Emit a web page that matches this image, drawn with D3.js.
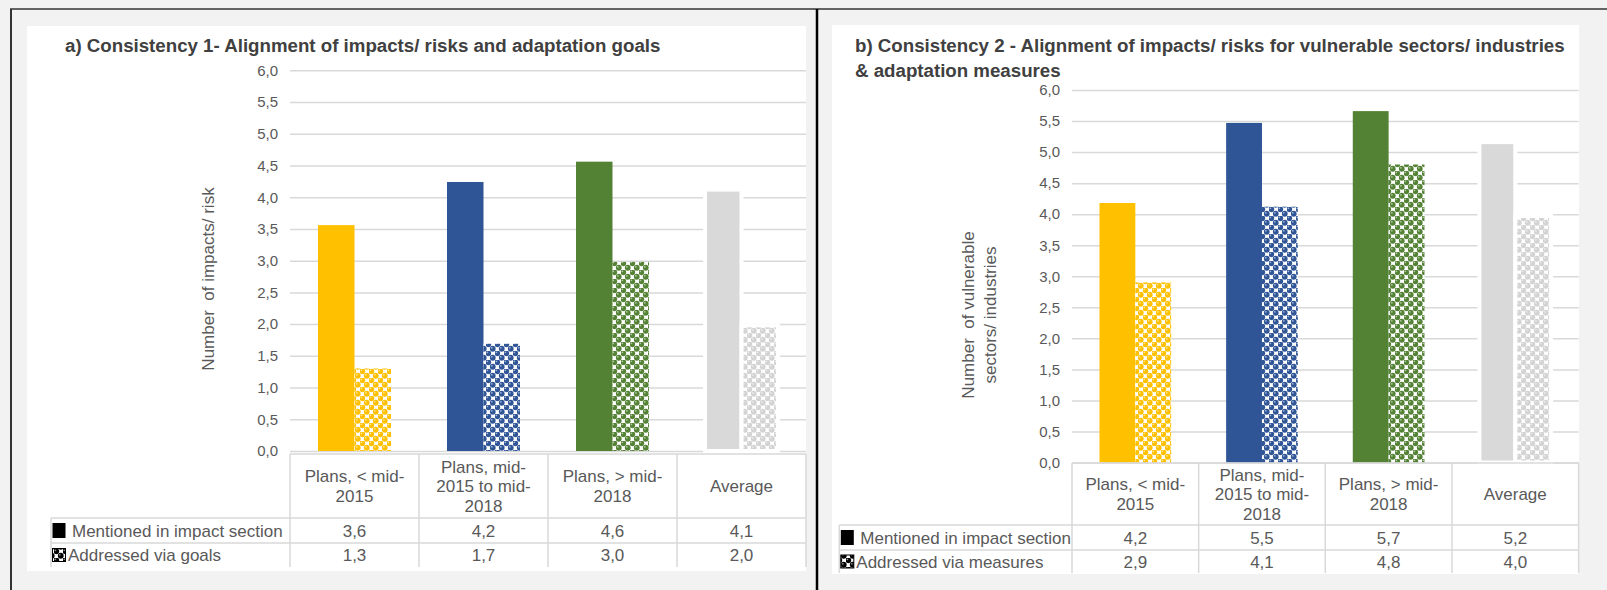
<!DOCTYPE html>
<html>
<head>
<meta charset="utf-8">
<script src="https://cdn.jsdelivr.net/npm/d3@7"></script>
<style>
  body { margin: 0; background: #f2f2f2; }
  text { font-family: "Liberation Sans", Arial, sans-serif; white-space: pre; }
</style>
</head>
<body>
<svg id="chart"></svg>
<script>
const CATEGORIES = ['Plans, < mid-2015', 'Plans, mid-2015 to mid-2018', 'Plans, > mid-2018', 'Average'];
const CATEGORY_LINES = [['Plans, < mid-', '2015'], ['Plans, mid-', '2015 to mid-', '2018'], ['Plans, > mid-', '2018'], ['Average']];
const COLORS = ['#FFC000', '#2F5597', '#548235', '#D9D9D9'];
const Y_TICKS = [0, 0.5, 1, 1.5, 2, 2.5, 3, 3.5, 4, 4.5, 5, 5.5, 6];

// panel a
const IMPACTS_A = [3.56, 4.24, 4.56, 4.12];
const GOALS_A = [1.3, 1.69, 2.98, 1.98];
// panel b
const IMPACTS_B = [4.18, 5.47, 5.66, 5.16];
const MEASURES_B = [2.9, 4.12, 4.8, 3.97];

const WIDTH = 1607, HEIGHT = 590;
const fmt = d3.formatLocale({ decimal: ',', thousands: '.', grouping: [3], currency: ['', '€'] }).format('.1f');

const svg = d3.select('#chart').attr('width', WIDTH).attr('height', HEIGHT);
const defs = svg.append('defs');

function ballPattern(id, color) {
  const p = defs.append('pattern').attr('id', id)
    .attr('patternUnits', 'userSpaceOnUse').attr('width', 9).attr('height', 9);
  p.append('rect').attr('width', 9).attr('height', 9).attr('fill', '#fff');
  [[2.25, 2.25], [6.75, 6.75], [6.75, -2.25], [-2.25, 6.75]].forEach(([cx, cy]) => {
    p.append('circle').attr('cx', cx).attr('cy', cy).attr('r', 2.9).attr('fill', color);
    p.append('circle').attr('cx', cx - 0.9).attr('cy', cy - 0.9).attr('r', 0.9).attr('fill', '#fff').attr('opacity', 0.55);
  });
}
COLORS.forEach((c, i) => ballPattern('ball' + i, i === 3 ? '#d3d3d3' : c));
ballPattern('ballKey', '#000');

// frame
svg.append('line').attr('x1', 10).attr('x2', WIDTH).attr('y1', 9).attr('y2', 9)
  .attr('stroke', '#333').attr('stroke-width', 1.5);
svg.append('line').attr('x1', 11).attr('x2', 11).attr('y1', 9).attr('y2', HEIGHT)
  .attr('stroke', '#333').attr('stroke-width', 2);
svg.append('line').attr('x1', 817).attr('x2', 817).attr('y1', 9).attr('y2', HEIGHT)
  .attr('stroke', '#000').attr('stroke-width', 2.5);

function drawPanel(cfg) {
  const g = svg.append('g');
  g.append('rect').attr('x', cfg.bg[0]).attr('y', cfg.bg[1]).attr('width', cfg.bg[2]).attr('height', cfg.bg[3])
    .attr('fill', '#fff');

  const x = d3.scaleBand().domain(CATEGORIES).range([cfg.x0, cfg.x1]);
  const y = d3.scaleLinear().domain([0, 6]).range([cfg.y0, cfg.y6]);
  const barW = x.bandwidth() * 0.283;
  const x1 = d3.scaleBand().domain([0, 1]).range([(x.bandwidth() - 2 * barW) / 2, (x.bandwidth() + 2 * barW) / 2]);

  // title
  g.append('text').attr('x', cfg.titleX).attr('y', 52)
    .attr('font-size', 18.7).attr('font-weight', 'bold').attr('fill', '#404040')
    .selectAll('tspan').data(cfg.title).join('tspan')
    .attr('x', cfg.titleX).attr('dy', (d, i) => i ? 25 : 0).text(d => d);

  // grid
  g.append('g').attr('transform', `translate(${cfg.x0},0)`)
    .call(d3.axisLeft(y).tickValues(Y_TICKS).tickSize(-(cfg.x1 - cfg.x0)).tickFormat(''))
    .call(a => a.select('.domain').remove())
    .call(a => a.selectAll('line').attr('stroke', '#d9d9d9').attr('stroke-width', 1.5));

  // y axis labels
  g.append('g').attr('transform', `translate(${cfg.x0},0)`)
    .call(d3.axisLeft(y).tickValues(Y_TICKS).tickSize(0).tickPadding(12).tickFormat(fmt))
    .call(a => a.select('.domain').remove())
    .call(a => a.selectAll('text').attr('font-size', 15).attr('fill', '#595959')
      .attr('font-family', '"Liberation Sans", Arial, sans-serif'));

  // axis title
  g.append('text').attr('transform', `translate(${cfg.axisTitle[0]},${cfg.axisTitle[1]}) rotate(-90)`)
    .attr('text-anchor', 'middle').attr('font-size', 17).attr('fill', '#595959')
    .selectAll('tspan').data(cfg.axisLines).join('tspan')
    .attr('x', 0).attr('y', (d, i) => (i - (cfg.axisLines.length - 1) / 2) * 21.5 + 6).text(d => d);

  // bars
  const series = [cfg.solid, cfg.pattern];
  series.forEach((vals, s) => {
    g.selectAll('.bar' + s)
      .data(CATEGORIES.map((c, i) => ({ c, i, v: vals[i] })))
      .join('rect')
      .attr('class', 'bar' + s)
      .attr('x', d => x(d.c) + x1(s))
      .attr('width', x1.bandwidth())
      .attr('y', d => y(d.v))
      .attr('height', d => y(0) - y(d.v))
      .attr('fill', d => s === 0 ? COLORS[d.i] : `url(#ball${d.i})`)
      .attr('stroke', d => d.i === 3 ? '#fff' : 'none')
      .attr('stroke-width', 4);
  });

  // data table
  const t = g.append('g').attr('stroke', '#d9d9d9').attr('stroke-width', 1.5);
  t.append('line').attr('x1', cfg.x0).attr('x2', cfg.x1).attr('y1', cfg.tableTop).attr('y2', cfg.tableTop);
  [cfg.headBottom, cfg.rowBottom].forEach(yy =>
    t.append('line').attr('x1', cfg.keyX).attr('x2', cfg.x1).attr('y1', yy).attr('y2', yy));
  t.selectAll('.vline').data(CATEGORIES.concat(['end'])).join('line')
    .attr('x1', (d, i) => cfg.x0 + i * x.bandwidth()).attr('x2', (d, i) => cfg.x0 + i * x.bandwidth())
    .attr('y1', cfg.tableTop).attr('y2', cfg.tableBottom);
  t.append('line').attr('x1', cfg.keyX).attr('x2', cfg.keyX).attr('y1', cfg.headBottom).attr('y2', cfg.tableBottom);

  const headMid = (cfg.tableTop + cfg.headBottom) / 2;
  g.selectAll('.cat').data(CATEGORIES).join('text')
    .attr('text-anchor', 'middle').attr('font-size', 17).attr('fill', '#595959')
    .each(function (d, i) {
      const lines = CATEGORY_LINES[i];
      d3.select(this).selectAll('tspan').data(lines).join('tspan')
        .attr('x', x(d) + x.bandwidth() / 2)
        .attr('y', (l, j) => headMid + (j - (lines.length - 1) / 2) * 19.5 + 6)
        .text(l => l);
    });

  const rowMids = [(cfg.headBottom + cfg.rowBottom) / 2, (cfg.rowBottom + cfg.tableBottom) / 2];
  series.forEach((vals, s) => {
    g.selectAll('.val' + s).data(vals).join('text')
      .attr('x', (d, i) => x(CATEGORIES[i]) + x.bandwidth() / 2)
      .attr('y', rowMids[s] + 6)
      .attr('text-anchor', 'middle').attr('font-size', 17).attr('fill', '#595959')
      .text(d => fmt(d));
  });

  // legend keys
  g.append('rect').attr('x', cfg.keyX + 1.5).attr('y', rowMids[0] - 7.5).attr('width', 13).attr('height', 15).attr('fill', '#000');
  g.append('rect').attr('x', cfg.keyX + 1.5).attr('y', rowMids[1] - 6.5).attr('width', 13).attr('height', 13)
    .attr('fill', 'url(#ballKey)').attr('stroke', '#000').attr('stroke-width', 1);
  g.append('text').attr('x', cfg.keyX + 21).attr('y', rowMids[0] + 6)
    .attr('font-size', 17).attr('fill', '#595959').text(cfg.rows[0]);
  g.append('text').attr('x', cfg.keyX + 17).attr('y', rowMids[1] + 6)
    .attr('font-size', 17).attr('fill', '#595959').text(cfg.rows[1]);
}

drawPanel({
  bg: [27, 26, 779, 545],
  x0: 290, x1: 806, y0: 451, y6: 70.3,
  tableTop: 454, headBottom: 518, rowBottom: 543, tableBottom: 567, keyX: 51,
  titleX: 65, title: ['a) Consistency 1- Alignment of impacts/ risks and adaptation goals'],
  axisTitle: [208, 279], axisLines: ['Number  of impacts/ risk'],
  solid: IMPACTS_A, pattern: GOALS_A,
  rows: ['Mentioned in impact section', 'Addressed via goals']
});

drawPanel({
  bg: [832, 25, 747, 549],
  x0: 1072, x1: 1578.6, y0: 462.5, y6: 90,
  tableTop: 463, headBottom: 525, rowBottom: 550, tableBottom: 573, keyX: 839.3,
  titleX: 855, title: ['b) Consistency 2 - Alignment of impacts/ risks for vulnerable sectors/ industries', '& adaptation measures'],
  axisTitle: [979, 315], axisLines: ['Number  of vulnerable', 'sectors/ industries'],
  solid: IMPACTS_B, pattern: MEASURES_B,
  rows: ['Mentioned in impact section', 'Addressed via measures']
});
</script>
</body>
</html>
